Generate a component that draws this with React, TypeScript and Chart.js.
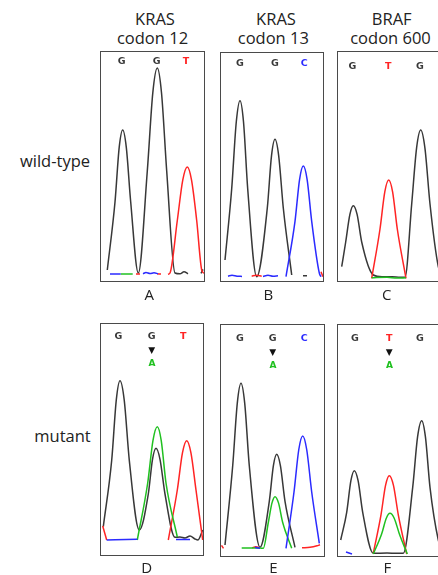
import React, { useEffect, useRef } from "react";
import Chart from "chart.js/auto";

type Pt = [number, number] | null;

// ---- Column / row text ----
const GENES = ["KRAS", "KRAS", "BRAF"];
const CODONS = ["codon 12", "codon 13", "codon 600"];
const ROWS = ["wild-type", "mutant"];
const PANEL_LETTERS = ["A", "B", "C", "D", "E", "F"];

// ---- Trace data: [scan position, signal above baseline] (G=black, T=red, C=blue, A=green) ----
const A_G: Pt[] = [[7.3, 4.3], [15, 72.3], [19.2, 127], [22.7, 144.3], [26.3, 127], [30.7, 72.3], [38.3, 1.3], [47.3, 103.3], [52.8, 181.5], [57.3, 206.3], [61.5, 181.5], [66.7, 103.3], [75, 1.3], [80, 0.5], [84, 2.5], [88, 0.5], null, [101, 1], [103, 5]];
const A_T: Pt[] = [[36, 0.3], [40, 0.3], null, [57, 0.5], [61, 0.3], null, [68, 0], [70, 1.3], [77.3, 53.8], [82.8, 94.4], [87.3, 107.3], [91.5, 94.4], [96.7, 53.8], [101.7, 4.3], [104, 1]];
const A_C: Pt[] = [[10, 0.3], [20.7, 0.3], null, [43, 0.5], [46, 1.8], [50, 0.8], [54, 1.5], [58, 0.5]];
const A_A: Pt[] = [[20.7, 0.3], [32.7, 0.3]];

const B_G: Pt[] = [[5, 16.7], [11.7, 88], [16.3, 154.9], [20, 176], [23.5, 154.9], [27.7, 88], [36.7, 0], [47.3, 68.7], [51.5, 120.9], [55, 137.4], [58.7, 120.9], [63.3, 68.7], [71.7, 1.7], null, [83, 1], [87, 1]];
const B_T: Pt[] = [[31.7, 0.5], [36, 1.5], [41.7, 0.5], null, [101, 5], [103, 0]];
const B_C: Pt[] = [[8, 0.5], [12, 1.5], [17, 0.5], [22, 0.3], null, [43, 0.3], [48, 1.5], [53, 0.5], [58, 1], null, [66, 0], [75, 55.4], [79.6, 97.4], [83.3, 110.7], [87.1, 97.4], [91.7, 55.4], [99.3, 3.7], [101, 0]];
const B_A: Pt[] = [];

const C_G: Pt[] = [[4.7, 11.6], [8.7, 36.3], [12.9, 63.9], [16.3, 72.6], [20.1, 63.9], [24.7, 36.3], [36.3, 3.3], [45, 1.5], [55, 1.5], [63, 1], [68, 1], [74.7, 74.3], [79.6, 130.5], [83.7, 148.3], [87.9, 130.5], [93, 74.3], [101.3, 11.6], [106, 0]];
const C_T: Pt[] = [[34.7, 0], [43, 49.3], [47.8, 86.5], [51.7, 98.3], [55.6, 86.5], [60.3, 49.3], [69, 0]];
const C_C: Pt[] = [];
const C_A: Pt[] = [[34.7, 0.5], [50, 1], [60, 0.3], [69, 0.5]];

const D_G: Pt[] = [[3.3, 13.3], [11.7, 79.7], [16.3, 140.2], [20, 159.3], [24.2, 140.2], [29.3, 79.7], [39.3, 10], [48.3, 46], [52.5, 80.7], [56, 91.7], [60, 80.7], [65, 46], [75, 2.7], [80, 3], [85, 2], [90, 4], [95, 1], [98, 0], [102.7, 10]];
const D_T: Pt[] = [[2.7, 14], [6.7, 0], null, [68.3, 0], [77.3, 50], [82.5, 87.4], [86.7, 99.3], [90.9, 87.4], [96, 50], [102.7, 0]];
const D_C: Pt[] = [[6.7, 0], [37.3, 0.7], null, [76, 0.5], [90, 0.5]];
const D_A: Pt[] = [[37.3, 0], [47.7, 57], [53, 99.7], [57.3, 113.3], [61.2, 99.7], [66, 57], [77.3, 3]];

const E_G: Pt[] = [[5, 3.3], [12.7, 82.5], [17.3, 145.2], [21, 165], [24.7, 145.2], [29.3, 82.5], [40, 1], [49.3, 47], [53.4, 82.7], [56.7, 94], [60.4, 82.7], [65, 47], [75, 1]];
const E_T: Pt[] = [[1.5, 3], [3.5, 0], null, [32, 0.5], [36, 1.5], [40, 0.5], null, [82, 0.5], [90, 1], [97, 2.5], [100, 3.5]];
const E_C: Pt[] = [[35, 1], [40, 0], null, [66, 0], [74, 56.3], [78.8, 98.8], [82.7, 112.3], [86.7, 98.8], [91.7, 56.3], [99.3, 5]];
const E_A: Pt[] = [[21.7, 0.3], [40, 0.3], [43.3, 0], [48.3, 25.8], [52, 45.4], [55, 51.6], [58.5, 45.4], [62.7, 25.8], [71.7, 0]];

const F_G: Pt[] = [[3.7, 14], [9.7, 41.7], [13.9, 73.3], [17.3, 83.3], [21.1, 73.3], [25.7, 41.7], [36.3, 0.7], [50, 1], [60, 0.7], [66.3, 0.7], [75.7, 66.7], [80.6, 117.3], [84.7, 133.3], [88.4, 117.3], [93, 66.7], [101.3, 14], [106, 0]];
const F_T: Pt[] = [[36.3, 0.7], [44, 39.2], [48.6, 68.9], [52.3, 78.3], [56.4, 68.9], [61.3, 39.2], [69.7, 0]];
const F_C: Pt[] = [[9, 2], [15, 0]];
const F_A: Pt[] = [[36.3, 0], [44.7, 20.3], [49.3, 35.8], [53, 40.7], [57.2, 35.8], [62.3, 20.3], [70.3, 0]];

// base calls shown above each panel
const CALLS = [
  ["G", "G", "T"],
  ["G", "G", "C"],
  ["G", "T", "G"],
  ["G", "G", "T"],
  ["G", "G", "C"],
  ["G", "T", "G"],
];
const MUTANT_BASE = ["A", "A", "A"];

const BASE_COLORS: Record<string, string> = {
  G: "#383838",
  T: "#ff2424",
  C: "#2b2bff",
  A: "#20c020",
};

// ---- layout (positions only) ----
const PANELS = [
  { left: 100, top: 51, w: 105, h: 231, off: 7.7, traces: { G: A_G, T: A_T, C: A_C, A: A_A }, callX: [21.7, 56.7, 86], callY: 60.7, label: [149.3, 300] },
  { left: 220, top: 52, w: 104, h: 230, off: 5.3, traces: { G: B_G, T: B_T, C: B_C, A: B_A }, callX: [20, 55, 84.3], callY: 63.3, label: [268.3, 300] },
  { left: 337, top: 51, w: 110, h: 231, off: 3.7, traces: { G: C_G, T: C_T, C: C_C, A: C_A }, callX: [15.3, 51.3, 83], callY: 66, label: [386.7, 300] },
  { left: 100, top: 323, w: 104, h: 233, off: 16, traces: { G: D_G, T: D_T, C: D_C, A: D_A }, callX: [18.3, 51.7, 83.3], callY: 336, label: [146.7, 573.7], mut: 1 },
  { left: 220, top: 324, w: 105, h: 233, off: 8.7, traces: { G: E_G, T: E_T, C: E_C, A: E_A }, callX: [20, 52.7, 84.3], callY: 338.3, label: [273.3, 573.7], mut: 1 },
  { left: 337, top: 324, w: 110, h: 233, off: 3, traces: { G: F_G, T: F_T, C: F_C, A: F_A }, callX: [18, 52.3, 83], callY: 338.3, label: [387.3, 573.7], mut: 1 },
];

function toData(pts: Pt[]) {
  let lastX = 0;
  return pts.map((p) => {
    if (!p) return { x: lastX, y: null as any };
    lastX = p[0];
    return { x: p[0], y: p[1] };
  });
}

function Panel({ p }: { p: any }) {
  const ref = useRef<HTMLCanvasElement>(null);
  useEffect(() => {
    if (!ref.current) return;
    const order = ["C", "A", "T", "G"];
    const datasets = order
      .filter((b) => p.traces[b].length > 0)
      .map((b) => ({
        label: b,
        data: toData(p.traces[b]),
        borderColor: BASE_COLORS[b],
        backgroundColor: BASE_COLORS[b],
        borderWidth: 1.5,
        pointRadius: 0,
        fill: false,
        cubicInterpolationMode: "monotone" as const,
        spanGaps: false,
      }));
    const chart = new Chart(ref.current, {
      type: "line",
      data: { datasets },
      options: {
        responsive: false,
        maintainAspectRatio: false,
        animation: false,
        devicePixelRatio: window.devicePixelRatio || 1,
        layout: { padding: 0 },
        plugins: { legend: { display: false }, tooltip: { enabled: false } },
        events: [],
        scales: {
          x: { type: "linear", display: false, min: 0, max: p.w },
          y: { type: "linear", display: false, min: -p.off, max: p.h - p.off },
        },
      },
    });
    return () => chart.destroy();
  }, []);
  return (
    <>
      <canvas
        ref={ref}
        width={p.w}
        height={p.h}
        style={{ position: "absolute", left: p.left, top: p.top, width: p.w, height: p.h }}
      />
      <div
        style={{
          position: "absolute",
          left: p.left,
          top: p.top,
          width: p.w,
          height: p.h,
          border: "1.5px solid #4a4a4a",
          boxSizing: "border-box",
        }}
      />
    </>
  );
}

const TEXT_FONT = "'Open Sans', sans-serif";
const CALL_FONT = "'DejaVu Sans', sans-serif";

function BaselineText({ x, base, size, children, color = "#222" }: any) {
  return (
    <div
      style={{
        position: "absolute",
        left: x,
        top: base - 0.888 * size,
        transform: "translateX(-50%)",
        fontFamily: TEXT_FONT,
        fontSize: size,
        lineHeight: 1,
        color,
        whiteSpace: "nowrap",
      }}
    >
      {children}
    </div>
  );
}

function CallText({ x, y, color, children, size = 9.5 }: any) {
  return (
    <div
      style={{
        position: "absolute",
        left: x,
        top: y,
        transform: "translate(-50%, -50%)",
        fontFamily: CALL_FONT,
        fontWeight: "bold",
        fontSize: size,
        lineHeight: 1,
        color,
        whiteSpace: "nowrap",
      }}
    >
      {children}
    </div>
  );
}

export default function App() {
  const headerX = [[155, 152.5], [276, 273.3], [391.7, 390.5]];
  return (
    <div
      style={{
        position: "absolute",
        left: 0,
        top: 0,
        width: 438,
        height: 575,
        overflow: "hidden",
        background: "#fff",
      }}
    >
      {GENES.map((g, i) => (
        <BaselineText key={"g" + i} x={headerX[i][0]} base={26} size={16.5}>{g}</BaselineText>
      ))}
      {CODONS.map((c, i) => (
        <BaselineText key={"c" + i} x={headerX[i][1]} base={45} size={16.5}>{c}</BaselineText>
      ))}
      <BaselineText x={55} base={167.3} size={16.5}>{ROWS[0]}</BaselineText>
      <BaselineText x={62.5} base={442.7} size={16.5}>{ROWS[1]}</BaselineText>
      {PANELS.map((p, i) => (
        <Panel key={"p" + i} p={p} />
      ))}
      {PANELS.map((p, i) =>
        CALLS[i].map((b, j) => (
          <CallText key={"cl" + i + j} x={p.left + p.callX[j]} y={p.callY} color={BASE_COLORS[b]}>{b}</CallText>
        ))
      )}
      {PANELS.map((p, i) =>
        p.mut ? (
          <React.Fragment key={"m" + i}>
            <CallText x={p.left + p.callX[1]} y={p.callY + 13.5} color="#111" size={9}>▼</CallText>
            <CallText x={p.left + p.callX[1] + 0.3} y={p.callY + 27} color={BASE_COLORS[MUTANT_BASE[i - 3]]} size={9}>{MUTANT_BASE[i - 3]}</CallText>
          </React.Fragment>
        ) : null
      )}
      {PANELS.map((p, i) => (
        <BaselineText key={"l" + i} x={p.label[0]} base={p.label[1]} size={15}>{PANEL_LETTERS[i]}</BaselineText>
      ))}
    </div>
  );
}
